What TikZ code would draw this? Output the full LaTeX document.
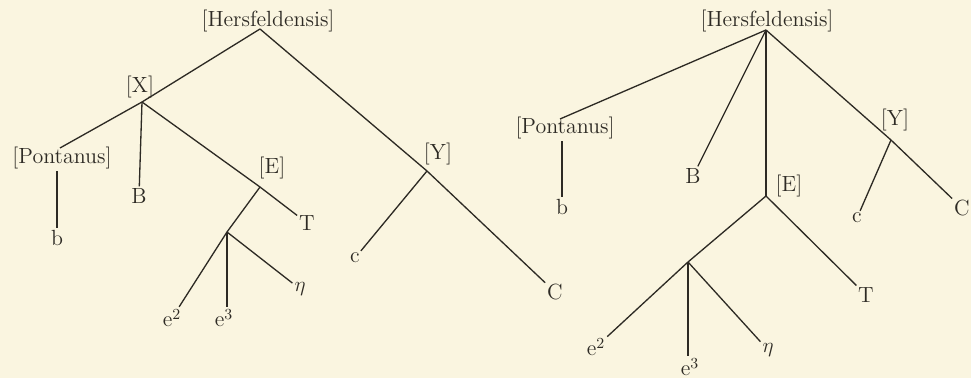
\documentclass[tikz,border=0pt]{standalone}
\usepackage{xcolor}
\usepackage{tikz}
\usetikzlibrary{positioning, calc}
\definecolor{paper}{RGB}{250,245,224}
\definecolor{ink}{RGB}{45,42,36}

\begin{document}
\begin{tikzpicture}[
  x=0.02cm, y=-0.02cm,
  lbl/.style={inner sep=1pt, text=ink, font=\fontsize{12.5}{14}\selectfont},
  br/.style={draw=ink, line width=0.75pt},
]
\fill[paper] (0,0) rectangle (971,378);
\useasboundingbox (0,0) rectangle (971,378);

% --- Left stemma ---
\coordinate (lh) at (260,29);
\node[lbl] (lhl) at (268,21) {[Hersfeldensis]};
\coordinate (lx) at (142,102);
\node[lbl] (lxl) at (140,87) {[X]};
\coordinate (lp) at (60,148);
\node[lbl] (lpon) at (62,158) {[Pontanus]};
\node[lbl] (lb) at (57,238) {b};
\node[lbl] (lB) at (139,196) {B};
\coordinate (le) at (260,187);
\node[lbl] (lel) at (272,168) {[E]};
\node[lbl] (lT) at (307,223) {T};
\coordinate (lj) at (227,232);
\node[lbl] (le2) at (172,318) {e\textsuperscript{2}};
\node[lbl] (le3) at (224,318) {e\textsuperscript{3}};
\node[lbl] (leta) at (300,289) {$\eta$};
\coordinate (ly) at (427,171);
\node[lbl] (lyl) at (438,154) {[Y]};
\node[lbl] (lc) at (355,258) {c};
\node[lbl] (lC) at (555,292) {C};

\draw[br] (lh) -- (lx);
\draw[br] (lx) -- (lp);
\draw[br] (lb |- lpon.south) -- (lb);
\draw[br] (lx) -- (lB);
\draw[br] (lx) -- (le) -- (lT);
\draw[br] (le) -- (lj);
\draw[br] (lj) -- (le2);
\draw[br] (lj) -- (lj |- le3.north);
\draw[br] (lj) -- (leta);
\draw[br] (lh) -- (ly) -- (lC);
\draw[br] (ly) -- (lc);

% --- Right stemma ---
\coordinate (rh) at (766,30);
\node[lbl] (rhl) at (767,21) {[Hersfeldensis]};
\coordinate (rp) at (560,119);
\node[lbl] (rpon) at (565,128) {[Pontanus]};
\node[lbl] (rb) at (562,207) {b};
\node[lbl] (rB) at (693,176) {B};
\coordinate (re) at (766,196);
\node[lbl] (rel) at (789,186) {[E]};
\coordinate (ry) at (891,140);
\node[lbl] (ryl) at (895,120) {[Y]};
\node[lbl] (rc) at (857,218) {c};
\node[lbl] (rC) at (962,208) {C};
\node[lbl] (rT) at (866,295) {T};
\coordinate (rj) at (688,262);
\node[lbl] (re2) at (596,347) {e\textsuperscript{2}};
\node[lbl] (re3) at (690,367) {e\textsuperscript{3}};
\node[lbl] (reta) at (768,350) {$\eta$};

\draw[br] (rh) -- (rp);
\draw[br] (rb |- rpon.south) -- (rb);
\draw[br] (rh) -- (rB);
\draw[br] (rh) -- (re);
\draw[br] (rh) -- (ry) -- (rC);
\draw[br] (ry) -- (rc);
\draw[br] (re) -- (rT);
\draw[br] (re) -- (rj);
\draw[br] (rj) -- (re2);
\draw[br] (rj) -- (rj |- re3.north);
\draw[br] (rj) -- (reta);
\end{tikzpicture}
\end{document}
